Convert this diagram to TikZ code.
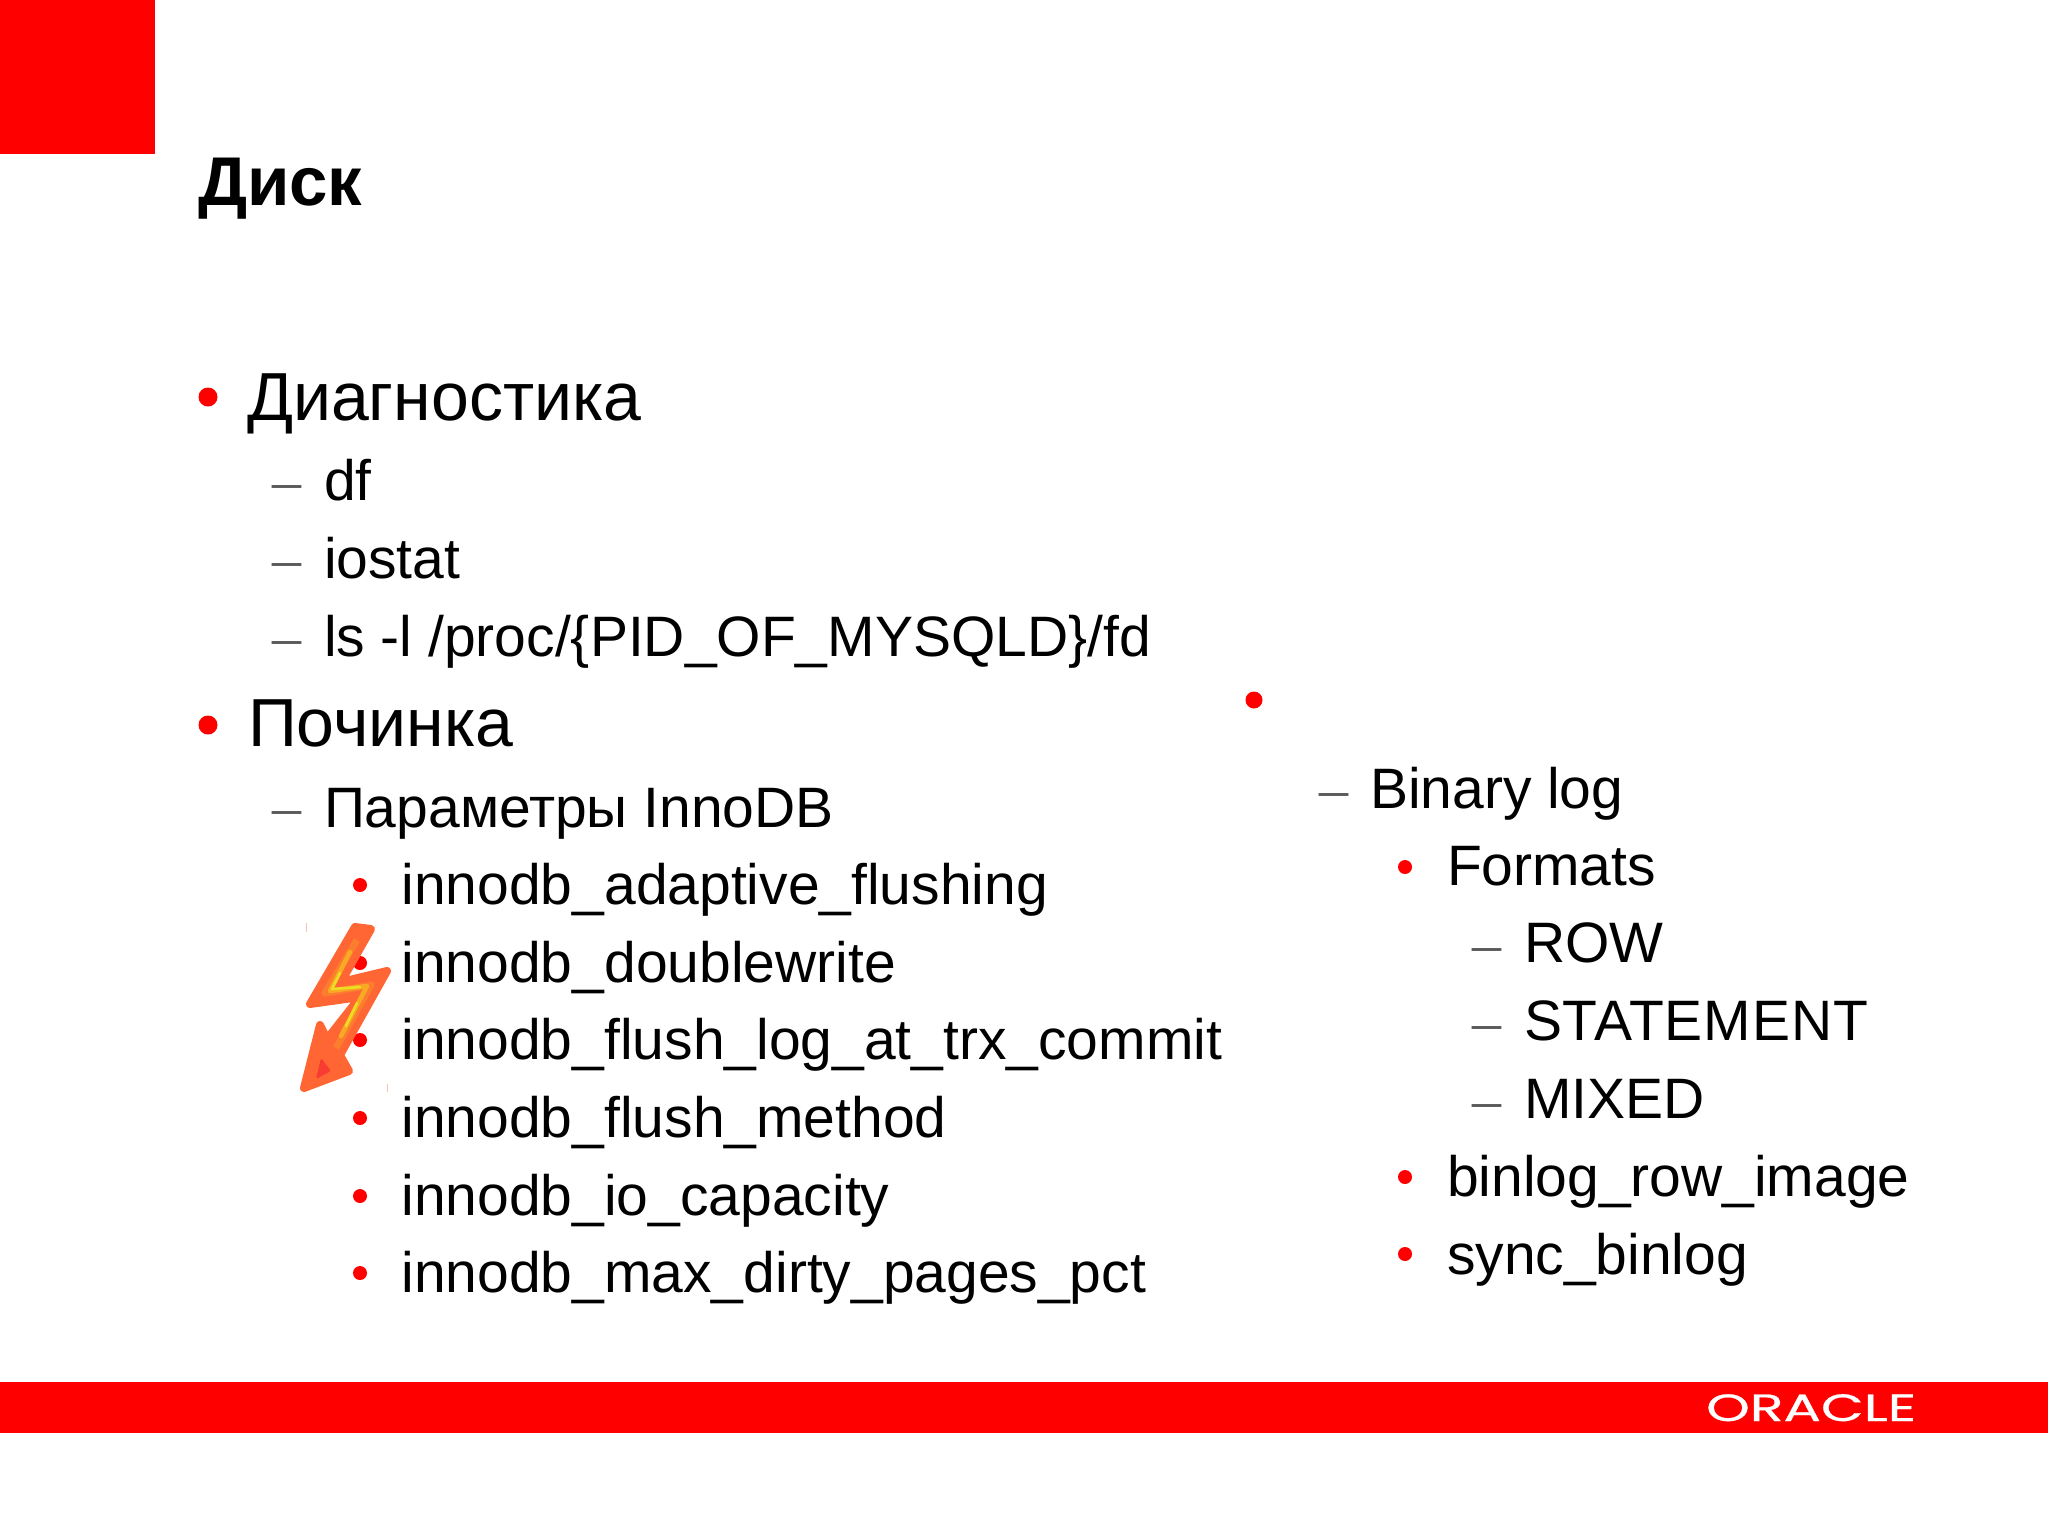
\documentclass[tikz,border=0pt]{standalone}
\usepackage{fontspec}
\setmainfont{Liberation Sans}
\newfontfamily\dashfont{Liberation Serif}
\newfontfamily\logofont[FakeBold=0.6]{Poppins}
\definecolor{ored}{RGB}{255,0,0}
\definecolor{bolt}{RGB}{255,102,51}
\definecolor{boltin}{RGB}{252,125,45}
\definecolor{boltmid}{RGB}{248,170,35}
\definecolor{bolty}{RGB}{238,222,35}
\definecolor{boltred}{RGB}{248,60,50}
\definecolor{tick}{RGB}{250,190,180}
\tikzset{
 x=1pt,y=-1pt,
 lone/.style={anchor=base west,inner sep=0pt,outer sep=0pt,font=\fontsize{68}{68}\selectfont},
 ltwo/.style={anchor=base west,inner sep=0pt,outer sep=0pt,font=\fontsize{57}{57}\selectfont},
 title/.style={anchor=base west,inner sep=0pt,outer sep=0pt,font=\fontsize{69}{69}\selectfont\bfseries},
 dashmark/.style={anchor=base west,inner sep=0pt,outer sep=0pt,text=black!65,font=\fontsize{58}{58}\selectfont\dashfont},
 dotmark/.style={circle,fill=ored,inner sep=0pt,minimum size=#1},
 dotmark/.default=14pt,
}
\begin{document}
\begin{tikzpicture}
\useasboundingbox (0,0) rectangle (2048,1536);
\fill[white] (0,0) rectangle (2048,1536);
\fill[ored] (0,0) rectangle (155,154);
\fill[ored] (0,1382) rectangle (2048,1433);
\node[anchor=base west,inner sep=0pt,text=white] (logo) at (1706,1421) {\logofont\fontsize{38}{38}\selectfont\scalebox{1.46}[1]{ORACLE}};
\node[title] (t) at (198,205) {Диск};
% left column
\node[dotmark=19pt] (b1) at (208,397) {};
\node[lone] (a1) at (247,420) {Диагностика};
\node[dashmark] (d1) at (272,500) {–};
\node[ltwo] (a2) at (324,500) {df};
\node[dashmark] (d2) at (272,578) {–};
\node[ltwo] (a3) at (324,578) {iostat};
\node[dashmark] (d3) at (272,656) {–};
\node[ltwo] (a4) at (324,656) {ls -l /proc/\{PID\_OF\_MYSQLD\}/fd};
\node[dotmark=19pt] (b2) at (208,725) {};
\node[lone] (a5) at (248,746) {Починка};
\node[dashmark] (d4) at (272,826) {–};
\node[ltwo] (a6) at (324,827) {Параметры InnoDB};
\foreach \n/\yy/\t in {1/904/innodb\_adaptive\_flushing,2/982/innodb\_doublewrite,3/1059/innodb\_flush\_log\_at\_trx\_commit,4/1137/innodb\_flush\_method,5/1215/innodb\_io\_capacity,6/1292/innodb\_max\_dirty\_pages\_pct}{
 \node[dotmark] (ib\n) at (360,\yy-19) {};
 \node[ltwo] (i\n) at (401.5,\yy) {\t};
}
% right column
\node[dotmark=17pt] (b3) at (1254,700) {};
\node[dashmark] (d5) at (1319,808) {–};
\node[ltwo] (r1) at (1370,808) {Binary log};
\node[dotmark] (rb1) at (1405,867) {};
\node[ltwo] (r2) at (1447,885) {Formats};
\node[dashmark] (d6) at (1472,963) {–};
\node[ltwo] (r3) at (1524,962) {ROW};
\node[dashmark] (d7) at (1472,1041) {–};
\node[ltwo] (r4) at (1524,1040) {\addfontfeature{LetterSpace=1.6}STATEMENT};
\node[dashmark] (d8) at (1472,1119) {–};
\node[ltwo] (r5) at (1524,1118) {MIXED};
\node[dotmark] (rb2) at (1405,1177) {};
\node[ltwo] (r6) at (1447,1196) {binlog\_row\_image};
\node[dotmark] (rb3) at (1405,1254) {};
\node[ltwo] (r7) at (1447,1274) {sync\_binlog};
% lightning bolt
\filldraw[bolt,line width=8pt,line join=round]
 (355,927) -- (371,929) -- (341,982) -- (387,971) -- (340,1055) -- (349,1071) -- (304,1088) -- (320,1025) -- (327,1039) -- (360,997) -- (310,1004) -- cycle;
\draw[boltin,line width=7pt,line join=round] (357,940) -- (325,993) -- (371,985) -- (336,1048);
\draw[boltmid,line width=4.5pt,line join=round,line cap=round] (350,952) -- (330,991) -- (367,986) -- (341,1036);
\draw[bolty,line width=2.5pt,line join=round,line cap=round] (340,973) -- (332,989) -- (360,987);
\draw[bolty,line width=2.5pt,line join=round,line cap=round] (357,1003) -- (346,1026);
\fill[boltred,rounded corners=2pt] (316,1079) -- (321,1058) -- (331,1071) -- cycle;
\draw[tick,line width=1pt] (306.5,923) -- (306.5,932);
\draw[tick,line width=1pt] (387,1084) -- (387,1092);
\end{tikzpicture}
\end{document}
